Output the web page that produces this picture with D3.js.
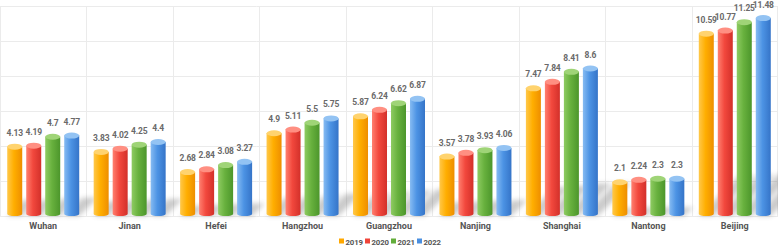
<!DOCTYPE html>
<html><head><meta charset="utf-8">
<script src="https://cdn.jsdelivr.net/npm/d3@7"></script>
<style>body{margin:0;background:#fff}svg{display:block}</style>
</head><body>
<svg id="chart" width="778" height="247"></svg>
<script>
const cities = ["Wuhan","Jinan","Hefei","Hangzhou","Guangzhou","Nanjing","Shanghai","Nantong","Beijing"];
const years = ["2019","2020","2021","2022"];
const v2019 = [4.13,3.83,2.68,4.9,5.87,3.57,7.47,2.1,10.59];
const v2020 = [4.19,4.02,2.84,5.11,6.24,3.78,7.84,2.24,10.77];
const v2021 = [4.7,4.25,3.08,5.5,6.62,3.93,8.41,2.3,11.25];
const v2022 = [4.77,4.4,3.27,5.75,6.87,4.06,8.6,2.3,11.48];
const yTicks = [0,2,4,6,8,10,12];
const series = [v2019,v2020,v2021,v2022];

const palette = {
  "2019": {l:"#FFC84A", m:"#FFAE00", r:"#EE8E00", cap:"#FFD36E", leg:"#FFA800"},
  "2020": {l:"#FF8070", m:"#F2483D", r:"#D3302A", cap:"#FF8F82", leg:"#F0453A"},
  "2021": {l:"#8ECB62", m:"#68B13E", r:"#4C962B", cap:"#9FD477", leg:"#62AD3A"},
  "2022": {l:"#86BBF2", m:"#4C93E4", r:"#3574C8", cap:"#93C3F3", leg:"#4A8FE0"}
};

const svg = d3.select("#chart");
const W = 778, plotTop = 6, plotBottom = 216;
const x = d3.scaleBand().domain(cities).range([0, W]).padding(0);
const y = d3.scaleLinear().domain([0,12]).range([plotBottom, plotTop]);
const FONT = "Roboto, 'Liberation Sans', sans-serif";

const defs = svg.append("defs");
years.forEach(yr => {
  const g = defs.append("linearGradient").attr("id","g"+yr).attr("x1","0").attr("x2","1").attr("y1","0").attr("y2","0");
  g.append("stop").attr("offset","0").attr("stop-color",palette[yr].l);
  g.append("stop").attr("offset","0.45").attr("stop-color",palette[yr].m);
  g.append("stop").attr("offset","1").attr("stop-color",palette[yr].r);
});
const f = defs.append("filter").attr("id","blur").attr("x","-50%").attr("y","-50%").attr("width","200%").attr("height","200%");
f.append("feGaussianBlur").attr("stdDeviation",2.5);

// grid
const grid = svg.append("g");
grid.selectAll("line.h").data(yTicks).join("line")
  .attr("x1",0).attr("x2",W).attr("y1",d=>Math.round(y(d))+0.5).attr("y2",d=>Math.round(y(d))+0.5)
  .attr("stroke","#ebebeb").attr("stroke-width",1);
grid.selectAll("line.v").data(cities.concat(["_end"])).join("line")
  .attr("x1",(d,i)=> i<cities.length ? Math.round(x(d))+0.5 : W-0.5)
  .attr("x2",(d,i)=> i<cities.length ? Math.round(x(d))+0.5 : W-0.5)
  .attr("y1",y(12)).attr("y2",plotBottom)
  .attr("stroke","#ebebeb").attr("stroke-width",1);

const data = [];
cities.forEach((c,i)=>years.forEach((yr,j)=>data.push({c, yr, v: series[j][i]})));

const inner = c => d3.scaleBand().domain(years)
  .range([x(c)+x.bandwidth()/2-36, x(c)+x.bandwidth()/2+36]).paddingInner(0.21);

// shadows
const sh = svg.append("g").attr("filter","url(#blur)").attr("opacity",0.3);
data.forEach(d=>{
  const b = inner(d.c); const x0 = b(d.yr), w = b.bandwidth();
  const h = (plotBottom - y(d.v)) * 0.22;
  const dx = h*1.0;
  sh.append("path")
    .attr("d",`M${x0},${plotBottom} L${x0+w},${plotBottom} L${x0+w+dx},${plotBottom-h} L${x0+dx},${plotBottom-h} Z`)
    .attr("fill","#555");
});

// bars
const bars = svg.append("g");
data.forEach(d=>{
  const b = inner(d.c); const x0 = b(d.yr), w = b.bandwidth();
  const yt = y(d.v) + 3;
  bars.append("path")
    .attr("d",`M${x0},${yt} L${x0},${plotBottom-2} A${w/2},2 0 0 0 ${x0+w},${plotBottom-2} L${x0+w},${yt} Z`)
    .attr("fill",`url(#g${d.yr})`);
  bars.append("ellipse").attr("cx",x0+w/2).attr("cy",yt).attr("rx",w/2).attr("ry",3)
    .attr("fill",palette[d.yr].cap);
  bars.append("text").attr("x",x0+w/2).attr("y",Math.max(7.5, y(d.v)-8))
    .attr("text-anchor","middle").attr("font-family",FONT)
    .attr("font-size",8.5).attr("font-weight",700).attr("fill","#6a6a6a")
    .attr("letter-spacing","-0.2")
    .text(d.v);
});

// category labels
svg.append("g").selectAll("text").data(cities).join("text")
  .attr("x",d=>x(d)+x.bandwidth()/2).attr("y",229)
  .attr("text-anchor","middle").attr("font-family",FONT)
  .attr("font-size",9).attr("font-weight",700).attr("fill","#555")
  .text(d=>d);

// legend
const leg = svg.append("g");
const lx = d3.scaleBand().domain(years).range([339, 443]);
years.forEach(yr=>{
  const g = leg.append("g").attr("transform",`translate(${lx(yr)},0)`);
  g.append("rect").attr("x",0).attr("y",238.5).attr("width",5).attr("height",5).attr("fill",palette[yr].leg);
  g.append("text").attr("x",6.5).attr("y",244.5).attr("font-family",FONT)
    .attr("font-size",7.8).attr("font-weight",700).attr("letter-spacing","-0.1").attr("fill","#555").text(yr);
});
</script>
</body></html>
